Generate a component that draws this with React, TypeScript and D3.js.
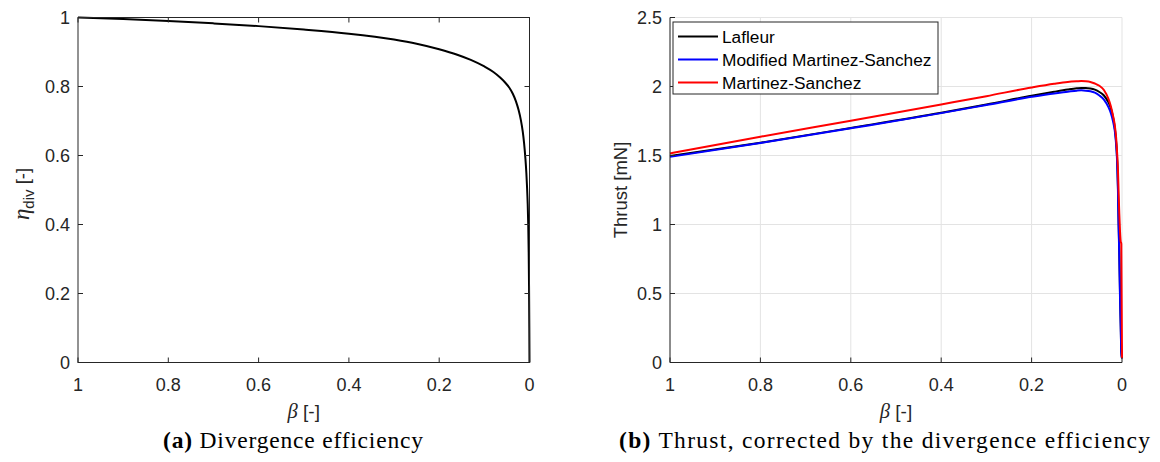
import React from 'react';
import * as d3 from 'd3';

// ---------- data ----------
const betaEta = [1, 0.9, 0.8, 0.7, 0.6, 0.5, 0.4, 0.3, 0.25, 0.2, 0.16, 0.13, 0.1, 0.08, 0.065, 0.055, 0.045, 0.037, 0.03, 0.024, 0.019, 0.015, 0.012, 0.009, 0.007, 0.0055, 0.004, 0.0028, 0.0018, 0.001, 0.0004, 0];
const etaDiv = [1.0, 0.9955, 0.99, 0.983, 0.975, 0.965, 0.953, 0.936, 0.924, 0.908, 0.892, 0.877, 0.858, 0.842, 0.826, 0.813, 0.797, 0.779, 0.757, 0.731, 0.702, 0.67, 0.636, 0.59, 0.55, 0.51, 0.46, 0.4, 0.32, 0.22, 0.1, 0];

const betaThrust = [1, 0.8, 0.6, 0.4, 0.3, 0.2, 0.15, 0.12, 0.1, 0.09, 0.08, 0.07, 0.06, 0.05, 0.04, 0.03, 0.025, 0.02, 0.016, 0.013, 0.011, 0.009, 0.0074, 0.006, 0.0044, 0.003, 0.0015, 0];
const thrustLafleur = [1.496, 1.593, 1.7, 1.81, 1.87, 1.933, 1.962, 1.978, 1.987, 1.99, 1.99, 1.986, 1.977, 1.96, 1.935, 1.885, 1.845, 1.78, 1.7, 1.6, 1.49, 1.28, 1.0, 0.8, 0.5, 0.3, 0.08, 0.03];
const thrustModMS = [1.49, 1.59, 1.697, 1.807, 1.866, 1.925, 1.95, 1.962, 1.97, 1.972, 1.97, 1.965, 1.955, 1.935, 1.905, 1.85, 1.81, 1.75, 1.68, 1.58, 1.47, 1.25, 0.97, 0.77, 0.47, 0.28, 0.07, 0.03];
const thrustMS = [1.515, 1.636, 1.752, 1.87, 1.93, 1.993, 2.02, 2.033, 2.038, 2.04, 2.038, 2.033, 2.022, 2.005, 1.975, 1.91, 1.86, 1.79, 1.72, 1.63, 1.53, 1.4, 1.22, 1.08, 0.95, 0.88, 0.86, 0.03];

const xTicks = [1, 0.8, 0.6, 0.4, 0.2, 0];
const etaTicks = [0, 0.2, 0.4, 0.6, 0.8, 1];
const thrustTicks = [0, 0.5, 1, 1.5, 2, 2.5];
const seriesNames = ['Lafleur', 'Modified Martinez-Sanchez', 'Martinez-Sanchez'];
const seriesColors = ['#000000', '#0000ff', '#ff0000'];
const seriesValues = [thrustLafleur, thrustModMS, thrustMS];

const SANS = '"Liberation Sans", Arial, Helvetica, sans-serif';
const MATH = '"Liberation Serif", "DejaVu Serif", serif';
const CAP = '"Liberation Serif", "DejaVu Serif", serif';
const AX = '#262626';
const GRID = '#e3e3e3';
const TICKFS = 18;

const fmt = (v: number) => String(v);

export default function App() {
  const top = 17.5, bottom = 362.5;
  const xL = d3.scaleLinear().domain([1, 0]).range([78, 529.5]);
  const yL = d3.scaleLinear().domain([0, 1]).range([bottom, top]);
  const xR = d3.scaleLinear().domain([1, 0]).range([670, 1122]);
  const yR = d3.scaleLinear().domain([0, 2.5]).range([bottom, top]);
  const tick = 5;

  const lineL = d3.line<number>().x((_, i) => xL(betaEta[i])).y((d) => yL(d)).curve(d3.curveMonotoneX);
  const lineR = d3.line<number>().x((_, i) => xR(betaThrust[i])).y((d) => yR(d)).curve(d3.curveMonotoneX);

  const legX = 673, legY = 22, legW = 265, legH = 72;

  return (
    <svg width={1160} height={462} style={{ position: 'absolute', left: 0, top: 0, background: '#fff' }}>
      <rect x={0} y={0} width={1160} height={462} fill="#fff" />
      {/* ---------- left plot ---------- */}
      <g>
        <path d={lineL(etaDiv) || ''} fill="none" stroke="#000" strokeWidth={2} />
        <rect x={xL(1)} y={top} width={xL(0) - xL(1)} height={bottom - top} fill="none" stroke={AX} strokeWidth={1} />
        {xTicks.map((t) => (
          <g key={'lx' + t}>
            <line x1={xL(t)} x2={xL(t)} y1={bottom} y2={bottom - tick} stroke={AX} />
            <line x1={xL(t)} x2={xL(t)} y1={top} y2={top + tick} stroke={AX} />
            <text x={xL(t)} y={390.5} textAnchor="middle" fontFamily={SANS} fontSize={TICKFS} fill={AX}>{fmt(t)}</text>
          </g>
        ))}
        {etaTicks.map((t) => (
          <g key={'ly' + t}>
            <line x1={xL(1)} x2={xL(1) + tick} y1={yL(t)} y2={yL(t)} stroke={AX} />
            <line x1={xL(0)} x2={xL(0) - tick} y1={yL(t)} y2={yL(t)} stroke={AX} />
            <text x={xL(1) - 8} y={yL(t)} dy="0.36em" textAnchor="end" fontFamily={SANS} fontSize={TICKFS} fill={AX}>{fmt(t)}</text>
          </g>
        ))}
        <text x={(xL(1) + xL(0)) / 2} y={418} textAnchor="middle" fontFamily={SANS} fontSize={19} fill={AX}>
          <tspan fontFamily={MATH} fontStyle="italic" fontSize={20.5}>β</tspan>
          <tspan> [-]</tspan>
        </text>
        <text transform={`translate(29,${(top + bottom) / 2 + 4}) rotate(-90)`} textAnchor="middle" fontFamily={SANS} fontSize={18.5} fill={AX}>
          <tspan fontFamily={MATH} fontStyle="italic" fontSize={23}>η</tspan>
          <tspan fontSize={15} dy={4.5}>div</tspan>
          <tspan dy={-4.5}> [-]</tspan>
        </text>
        <text x={293} y={448} textAnchor="middle" fontFamily={CAP} fontSize={23.5} fill="#000" textLength={260} lengthAdjust="spacing">
          <tspan fontWeight="bold">(a)</tspan>
          <tspan> Divergence efficiency</tspan>
        </text>
      </g>

      {/* ---------- right plot ---------- */}
      <g>
        {xTicks.map((t) => (
          <line key={'gx' + t} x1={xR(t)} x2={xR(t)} y1={top} y2={bottom} stroke={GRID} />
        ))}
        {thrustTicks.map((t) => (
          <line key={'gy' + t} x1={xR(1)} x2={xR(0)} y1={yR(t)} y2={yR(t)} stroke={GRID} />
        ))}
        {seriesValues.map((vals, k) => (
          <path key={'s' + k} d={lineR(vals) || ''} fill="none" stroke={seriesColors[k]} strokeWidth={2} />
        ))}
        <line x1={xR(1)} x2={xR(0)} y1={bottom} y2={bottom} stroke={AX} />
        <line x1={xR(1)} x2={xR(1)} y1={top} y2={bottom} stroke={AX} />
        {xTicks.map((t) => (
          <g key={'rx' + t}>
            <line x1={xR(t)} x2={xR(t)} y1={bottom} y2={bottom - tick} stroke={AX} />
            <text x={xR(t)} y={390.5} textAnchor="middle" fontFamily={SANS} fontSize={TICKFS} fill={AX}>{fmt(t)}</text>
          </g>
        ))}
        {thrustTicks.map((t) => (
          <g key={'ry' + t}>
            <line x1={xR(1)} x2={xR(1) + tick} y1={yR(t)} y2={yR(t)} stroke={AX} />
            <text x={xR(1) - 8} y={yR(t)} dy="0.36em" textAnchor="end" fontFamily={SANS} fontSize={TICKFS} fill={AX}>{fmt(t)}</text>
          </g>
        ))}
        <text x={(xR(1) + xR(0)) / 2} y={418} textAnchor="middle" fontFamily={SANS} fontSize={19} fill={AX}>
          <tspan fontFamily={MATH} fontStyle="italic" fontSize={20.5}>β</tspan>
          <tspan> [-]</tspan>
        </text>
        <text transform={`translate(627,${(top + bottom) / 2}) rotate(-90)`} textAnchor="middle" fontFamily={SANS} fontSize={18.5} fill={AX}>
          Thrust [mN]
        </text>
        {/* legend */}
        <rect x={legX} y={legY} width={legW} height={legH} fill="#fff" stroke={AX} strokeWidth={1} />
        {seriesNames.map((name, k) => {
          const yy = legY + 14.5 + k * 23;
          return (
            <g key={'lg' + k}>
              <line x1={legX + 5} x2={legX + 45} y1={yy} y2={yy} stroke={seriesColors[k]} strokeWidth={2} />
              <text x={legX + 49} y={yy} dy="0.36em" fontFamily={SANS} fontSize={17.3} fill="#000">{name}</text>
            </g>
          );
        })}
        <text x={884.5} y={448} textAnchor="middle" fontFamily={CAP} fontSize={23.5} fill="#000" textLength={531} lengthAdjust="spacing">
          <tspan fontWeight="bold">(b)</tspan>
          <tspan> Thrust, corrected by the divergence efficiency</tspan>
        </text>
      </g>
    </svg>
  );
}
